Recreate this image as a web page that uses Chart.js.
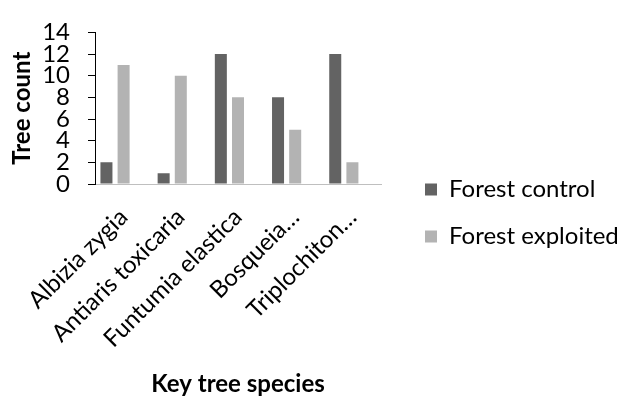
<!DOCTYPE html>
<html>
<head>
<meta charset="utf-8">
<script src="https://cdn.jsdelivr.net/npm/chart.js@4"></script>
<style>
  html, body { margin: 0; padding: 0; background: #fff; }
  #wrap { width: 619px; height: 396px; }
</style>
</head>
<body>
<div id="wrap"><canvas id="c" width="619" height="396"></canvas></div>
<script>
// Tree counts per key species, control vs exploited forest plots
const species = ['Albizia zygia', 'Antiaris toxicaria', 'Funtumia elastica', 'Bosqueia…', 'Triplochiton…'];
const forestControl = [2, 1, 12, 8, 12];
const forestExploited = [11, 10, 8, 5, 2];
// empty third slot in each group (keeps the bar pair left of centre)
const emptySlot = [null, null, null, null, null];
const yTicks = [0, 2, 4, 6, 8, 10, 12, 14];

const FONT = 'Lato';
const TEXT = '#000';
const LEGEND_WIDTH = 217;

// Give the right-hand legend a fixed box width instead of the default
// cap of half the canvas split between the side boxes.
const wideLegend = {
  id: 'wideLegend',
  beforeLayout(chart) {
    const lg = chart.legend;
    if (lg && !lg._wideLegend) {
      const update = lg.update.bind(lg);
      lg.update = (w, h, m) => update(LEGEND_WIDTH, h, m);
      lg._wideLegend = true;
    }
  }
};

new Chart(document.getElementById('c'), {
  type: 'bar',
  data: {
    labels: species,
    datasets: [
      { label: 'Forest control', data: forestControl, backgroundColor: '#636363' },
      { label: 'Forest exploited', data: forestExploited, backgroundColor: '#b3b3b3' },
      { label: '', data: emptySlot, backgroundColor: 'rgba(0,0,0,0)' }
    ]
  },
  plugins: [wideLegend],
  options: {
    responsive: false,
    animation: false,
    devicePixelRatio: 1,
    categoryPercentage: 0.9,
    barPercentage: 0.7,
    layout: { padding: { top: 22, left: 0, right: 0, bottom: 0 } },
    plugins: {
      tooltip: { enabled: false },
      legend: {
        position: 'right',
        align: 'center',
        title: { display: true, text: '', font: { size: 6, lineHeight: 1 }, padding: 1 },
        labels: {
          boxWidth: 12,
          boxHeight: 12,
          padding: 23,
          color: TEXT,
          font: { family: FONT, size: 24 },
          filter: (item) => item.text !== ''
        }
      }
    },
    scales: {
      x: {
        grid: { display: false, drawTicks: false },
        border: { display: true, color: '#bfbfbf', width: 1 },
        ticks: {
          color: TEXT,
          font: { family: FONT, size: 24 },
          minRotation: 45,
          maxRotation: 45,
          autoSkip: false,
          padding: 19
        },
        title: {
          display: true,
          text: 'Key tree species',
          color: TEXT,
          font: { family: FONT, size: 24, weight: 'bold', lineHeight: 1 },
          padding: { top: 0, bottom: 0 }
        },
        afterFit: (s) => { s.height = 212; }
      },
      y: {
        min: 0,
        max: 14,
        afterBuildTicks: (s) => { s.ticks = yTicks.map(v => ({ value: v })); },
        grid: { display: true, drawOnChartArea: false, drawTicks: true, tickLength: 7, color: '#000' },
        border: { display: true, color: '#000', width: 1 },
        ticks: {
          color: TEXT,
          font: { family: FONT, size: 24 },
          padding: 18,
          autoSkip: false
        },
        title: {
          display: true,
          text: 'Tree count',
          color: TEXT,
          font: { family: FONT, size: 24, weight: 'bold', lineHeight: 1.2 },
          padding: { top: 8, bottom: 6 }
        },
        afterFit: (s) => { s.width = 95; }
      },
      gap: {
        type: 'linear',
        position: 'right',
        display: true,
        grid: { display: false, drawTicks: false },
        border: { display: false },
        ticks: { display: false },
        afterFit: (s) => { s.width = 21; }
      }
    }
  }
});
</script>
</body>
</html>
